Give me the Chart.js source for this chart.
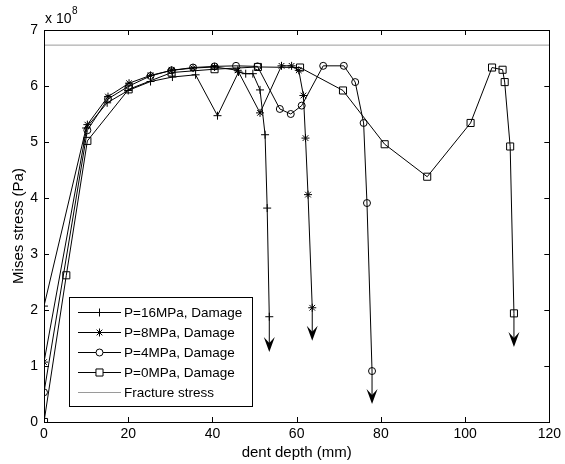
<!DOCTYPE html>
<html>
<head>
<meta charset="utf-8">
<title>Mises stress vs dent depth</title>
<script src="https://cdn.jsdelivr.net/npm/chart.js@4/dist/chart.umd.min.js"></script>
<style>
  html, body { margin: 0; padding: 0; background: #fff; }
  canvas { display: block; }
</style>
</head>
<body>
<canvas id="stressChart" width="565" height="464"></canvas>
<script>
// dent depth (mm) / Mises stress (x 1e8 Pa) for each internal pressure
const p16X = [0, 10, 15, 20, 25.3, 30.5, 36, 41.2, 46.2, 47.9, 49.6, 51.3, 52.5, 53, 53.5];
const p16Y = [2.07, 5.25, 5.70, 5.92, 6.08, 6.16, 6.20, 5.47, 6.25, 6.22, 6.22, 5.93, 5.13, 3.82, 1.88];

const p8X = [0, 10.3, 15.2, 20.2, 25.3, 30.3, 35.4, 40.5, 46, 51.3, 56.4, 58.8, 60.5, 61.6, 62.1, 62.7, 63.7];
const p8Y = [1.07, 5.31, 5.81, 6.05, 6.19, 6.28, 6.32, 6.34, 6.28, 5.52, 6.36, 6.36, 6.28, 5.83, 5.07, 4.06, 2.04];

const p4X = [0, 10.3, 15.2, 20.2, 25.3, 30.3, 35.4, 40.5, 45.6, 50.7, 56, 58.6, 61.2, 66.3, 71.2, 73.9, 75.9, 76.7, 77.9];
const p4Y = [0.53, 5.21, 5.77, 6.00, 6.18, 6.28, 6.33, 6.35, 6.36, 6.35, 5.59, 5.50, 5.65, 6.36, 6.36, 6.07, 5.34, 3.91, 0.91];

const p0X = [0, 5.3, 10.3, 20.1, 30.3, 40.5, 50.8, 60.8, 71, 80.9, 91, 101.3, 106.4, 108.9, 109.4, 110.7, 111.6];
const p0Y = [0, 2.62, 5.02, 5.94, 6.24, 6.30, 6.34, 6.33, 5.92, 4.96, 4.38, 5.34, 6.33, 6.29, 6.07, 4.92, 1.94];

const fractureStress = 6.73;

// failure arrows: x, start (last point) and tip
const arrowX = [53.5, 63.7, 77.9, 111.6];
const arrowFrom = [1.88, 2.04, 0.91, 1.94];
const arrowTo = [1.25, 1.45, 0.32, 1.34];

const xTicks = [0, 20, 40, 60, 80, 100, 120];
const yTicks = [0, 1, 2, 3, 4, 5, 6, 7];

const seriesNames = ["P=16MPa, Damage", "P=8MPa, Damage", "P=4MPa, Damage", "P=0MPa, Damage", "Fracture stress"];

function pts(xs, ys) {
  return xs.map((x, i) => ({ x: x, y: ys[i] }));
}

const FONT = "Arial, 'Liberation Sans', sans-serif";

function series(label, xs, ys, style, radius) {
  return {
    label: label,
    data: pts(xs, ys),
    borderColor: "#000",
    borderWidth: 1,
    pointStyle: style,
    pointRadius: radius,
    pointBorderColor: "#000",
    pointBackgroundColor: "rgba(0,0,0,0)",
    pointBorderWidth: 1,
    tension: 0,
    fill: false,
  };
}

const datasets = [
  series(seriesNames[0], p16X, p16Y, "cross", 4),
  series(seriesNames[1], p8X, p8Y, "star", 4),
  series(seriesNames[2], p4X, p4Y, "circle", 3.5),
  series(seriesNames[3], p0X, p0Y, "rect", 5),
  {
    label: seriesNames[4],
    data: [{ x: 0, y: fractureStress }, { x: 120, y: fractureStress }],
    borderColor: "#9a9a9a",
    borderWidth: 1,
    pointRadius: 0,
    fill: false,
  },
];

// box, inward tick marks, arrows, legend and the axis texts
const matlabFrame = {
  id: "matlabFrame",
  afterDatasetsDraw(chart) {
    const ctx = chart.ctx;
    const a = chart.chartArea;
    const xs = chart.scales.x;
    const ys = chart.scales.y;
    ctx.save();

    // arrows
    ctx.strokeStyle = "#000";
    ctx.fillStyle = "#000";
    ctx.lineWidth = 1;
    arrowX.forEach((v, i) => {
      const px = xs.getPixelForValue(v);
      const y0 = ys.getPixelForValue(arrowFrom[i]);
      const y1 = ys.getPixelForValue(arrowTo[i]);
      ctx.beginPath();
      ctx.moveTo(px, y0);
      ctx.lineTo(px, y1 - 8);
      ctx.stroke();
      ctx.beginPath();
      ctx.moveTo(px, y1);
      ctx.lineTo(px - 5.5, y1 - 15);
      ctx.lineTo(px, y1 - 9);
      ctx.lineTo(px + 5.5, y1 - 15);
      ctx.closePath();
      ctx.fill();
    });

    // frame
    ctx.lineWidth = 1;
    ctx.strokeStyle = "#000";
    ctx.strokeRect(Math.round(a.left) + 0.5, Math.round(a.top) + 0.5,
      Math.round(a.right - a.left), Math.round(a.bottom - a.top));

    // tick marks pointing inward on all four sides
    const tl = 5;
    ctx.beginPath();
    xTicks.forEach(v => {
      const px = Math.round(xs.getPixelForValue(v)) + 0.5;
      ctx.moveTo(px, a.bottom);
      ctx.lineTo(px, a.bottom - tl);
      ctx.moveTo(px, a.top);
      ctx.lineTo(px, a.top + tl);
    });
    yTicks.forEach(v => {
      const py = Math.round(ys.getPixelForValue(v)) + 0.5;
      ctx.moveTo(a.left, py);
      ctx.lineTo(a.left + tl, py);
      ctx.moveTo(a.right, py);
      ctx.lineTo(a.right - tl, py);
    });
    ctx.stroke();

    // legend box
    const lx = 69.5, ly = 297.5, lw = 183, lh = 109;
    ctx.fillStyle = "#fff";
    ctx.fillRect(lx, ly, lw, lh);
    ctx.strokeRect(lx, ly, lw, lh);
    ctx.font = "13.5px " + FONT;
    ctx.textBaseline = "middle";
    ctx.textAlign = "left";
    chart.data.datasets.forEach((ds, i) => {
      const ry = 312 + i * 20;
      ctx.strokeStyle = ds.borderColor;
      ctx.lineWidth = 1;
      ctx.beginPath();
      ctx.moveTo(78, ry + 0.5);
      ctx.lineTo(121, ry + 0.5);
      ctx.stroke();
      if (ds.pointRadius > 0) {
        // open markers, as on the plotted lines
        ctx.fillStyle = "#fff";
        Chart.helpers.drawPoint(ctx, {
          pointStyle: ds.pointStyle,
          radius: ds.pointRadius,
          borderWidth: 1,
          rotation: 0,
        }, 99.5, ry + 0.5);
      }
      ctx.fillStyle = "#000";
      ctx.fillText(ds.label, 124, ry + 1);
    });

    // axis titles
    ctx.fillStyle = "#000";
    ctx.font = "15px " + FONT;
    ctx.textAlign = "center";
    ctx.fillText("dent depth (mm)", (a.left + a.right) / 2, 453);
    ctx.save();
    ctx.translate(19, (a.top + a.bottom) / 2);
    ctx.rotate(-Math.PI / 2);
    ctx.fillText("Mises stress (Pa)", 0, 0);
    ctx.restore();

    // exponent label
    ctx.textAlign = "left";
    ctx.font = "14px " + FONT;
    ctx.fillText("x 10", 45, 19);
    ctx.font = "10px " + FONT;
    ctx.fillText("8", 72, 11);
    ctx.restore();
  },
};

new Chart(document.getElementById("stressChart"), {
  type: "line",
  data: { datasets: datasets },
  options: {
    responsive: false,
    animation: false,
    layout: { padding: { left: 0, top: 30, right: 12, bottom: 0 } },
    scales: {
      x: {
        type: "linear",
        min: 0,
        max: 120,
        afterFit(scale) { scale.height = 42; },
        afterBuildTicks(scale) { scale.ticks = xTicks.map(v => ({ value: v })); },
        grid: { display: false, drawTicks: false },
        border: { display: false },
        ticks: { padding: 4, color: "#000", font: { family: FONT, size: 14 }, maxRotation: 0 },
      },
      y: {
        type: "linear",
        min: 0,
        max: 7,
        afterFit(scale) { scale.width = 44; },
        afterBuildTicks(scale) { scale.ticks = yTicks.map(v => ({ value: v })); },
        grid: { display: false, drawTicks: false },
        border: { display: false },
        ticks: { padding: 6, color: "#000", font: { family: FONT, size: 14 } },
      },
    },
    plugins: {
      legend: { display: false },
      tooltip: { enabled: false },
    },
  },
  plugins: [matlabFrame],
});
</script>
</body>
</html>
